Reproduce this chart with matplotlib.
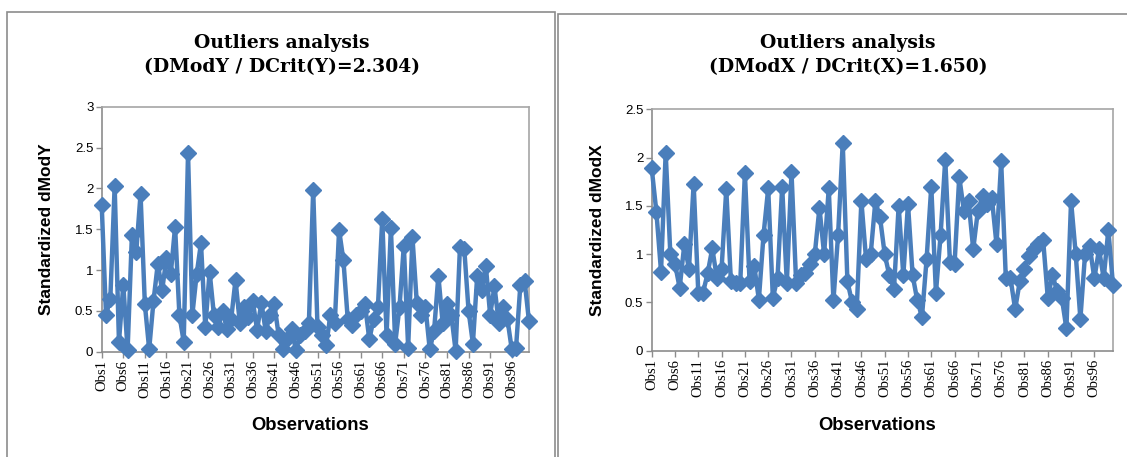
import matplotlib
matplotlib.use("Agg")
import matplotlib.pyplot as plt
from matplotlib.patches import Rectangle

obs = [f"Obs{i}" for i in range(1, 101)]

dmody = [1.80, 0.45, 0.65, 2.03, 0.12, 0.82, 0.02, 1.43, 1.22, 1.93,
         0.58, 0.03, 0.62, 1.08, 0.75, 1.15, 0.95, 1.53, 0.45, 0.12,
         2.43, 0.45, 0.95, 1.33, 0.30, 0.98, 0.45, 0.30, 0.50, 0.28,
         0.40, 0.88, 0.35, 0.55, 0.42, 0.62, 0.27, 0.60, 0.25, 0.45,
         0.58, 0.20, 0.03, 0.15, 0.28, 0.02, 0.20, 0.25, 0.35, 1.98,
         0.30, 0.20, 0.08, 0.45, 0.35, 1.49, 1.12, 0.40, 0.33, 0.45,
         0.50, 0.58, 0.15, 0.40, 0.55, 1.63, 0.20, 1.52, 0.10, 0.55,
         1.30, 0.05, 1.40, 0.60, 0.45, 0.55, 0.03, 0.25, 0.93, 0.35,
         0.58, 0.45, 0.01, 1.28, 1.26, 0.50, 0.10, 0.93, 0.75, 1.05,
         0.45, 0.80, 0.35, 0.55, 0.40, 0.03, 0.05, 0.82, 0.86, 0.37]

dmodx = [1.89, 1.44, 0.82, 2.05, 1.00, 0.90, 0.65, 1.10, 0.85, 1.73,
         0.60, 0.60, 0.80, 1.06, 0.75, 0.85, 1.67, 0.72, 0.70, 0.70,
         1.84, 0.72, 0.88, 0.53, 1.20, 1.68, 0.55, 0.75, 1.70, 0.70,
         1.85, 0.70, 0.78, 0.80, 0.90, 1.00, 1.48, 1.00, 1.68, 0.52,
         1.20, 2.15, 0.72, 0.50, 0.43, 1.55, 0.95, 1.00, 1.55, 1.38,
         1.00, 0.78, 0.64, 1.50, 0.78, 1.52, 0.78, 0.52, 0.35, 0.95,
         1.70, 0.60, 1.20, 1.98, 0.92, 0.90, 1.80, 1.45, 1.55, 1.05,
         1.45, 1.60, 1.52, 1.58, 1.10, 1.96, 0.75, 0.75, 0.43, 0.72,
         0.85, 0.98, 1.05, 1.10, 1.15, 0.55, 0.78, 0.62, 0.55, 0.23,
         1.55, 1.00, 0.33, 1.00, 1.08, 0.75, 1.05, 0.75, 1.25, 0.68]

titles = ["Outliers analysis\n(DModY / DCrit(Y)=2.304)",
          "Outliers analysis\n(DModX / DCrit(X)=1.650)"]
ylabels = ["Standardized dModY", "Standardized dModX"]
yticks_list = [[0, 0.5, 1, 1.5, 2, 2.5, 3], [0, 0.5, 1, 1.5, 2, 2.5]]
ytick_labels = [["0", "0.5", "1", "1.5", "2", "2.5", "3"],
                ["0", "0.5", "1", "1.5", "2", "2.5"]]

W, H = 1127, 457
fig = plt.figure(figsize=(W / 100, H / 100), dpi=100)
fig.patch.set_facecolor("white")

# panel frames
fig.patches.append(Rectangle((7 / W, -0.05), 548 / W, (H - 12) / H + 0.05,
                             transform=fig.transFigure, fill=False,
                             edgecolor="#8c8c8c", linewidth=1.2))
fig.patches.append(Rectangle((558 / W, -0.05), 600 / W, (H - 14) / H + 0.05,
                             transform=fig.transFigure, fill=False,
                             edgecolor="#8c8c8c", linewidth=1.2))

axes_px = [(101.7, 106.7, 529.0, 351.7), (651.7, 109.3, 1113.0, 350.7)]
title_cx = [282, 848]
ylabel_x = [47, 598]
series = [dmody, dmodx]
blue = "#4A7EBB"

for k in range(2):
    x0, y0, x1, y1 = axes_px[k]
    ax = fig.add_axes([x0 / W, (H - y1) / H, (x1 - x0) / W, (y1 - y0) / H])
    xs = list(range(1, 101))
    ax.plot(xs, series[k], color=blue, lw=3.2, marker="D", markersize=8.5,
            markerfacecolor=blue, markeredgecolor=blue, clip_on=False, zorder=3)
    ax.set_xlim(1, 100)
    ax.set_ylim(0, yticks_list[k][-1])
    ax.set_yticks(yticks_list[k])
    ax.set_yticklabels(ytick_labels[k], fontsize=9.5, family="Liberation Sans")
    tick_pos = list(range(1, 101, 5))
    ax.set_xticks(tick_pos)
    ax.set_xticklabels([obs[i - 1] for i in tick_pos], rotation=90,
                       fontsize=10.5, family="Liberation Serif")
    ax.tick_params(axis="both", direction="out", length=4, width=1,
                   color="#8c8c8c", pad=2)
    for s in ax.spines.values():
        s.set_color("#a6a6a6")
        s.set_linewidth(1.2)
    ax.spines["left"].set_color("#8c8c8c")
    ax.spines["bottom"].set_color("#8c8c8c")
    fig.text(title_cx[k] / W, 1 - 55 / H, titles[k], ha="center", va="center",
             fontsize=13.5, fontweight="bold", family="DejaVu Serif",
             linespacing=1.45)
    fig.text(ylabel_x[k] / W, 1 - ((y0 + y1) / 2) / H, ylabels[k],
             rotation=90, ha="center", va="center", fontsize=12.5,
             fontweight="bold", family="Liberation Sans")
    fig.text(((x0 + x1) / 2 - 5) / W, 1 - 425 / H, "Observations",
             ha="center", va="center", fontsize=13.3, fontweight="bold",
             family="Liberation Sans")

fig.savefig("out.png", dpi=100, facecolor="white")
